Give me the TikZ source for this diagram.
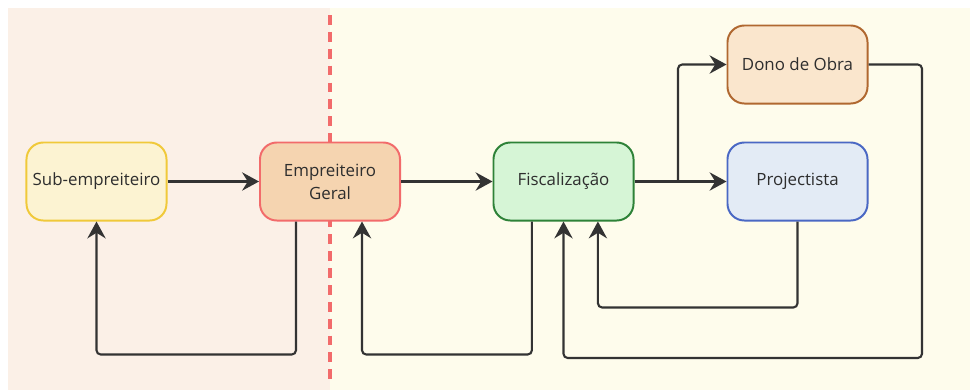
\documentclass[tikz,border=0pt]{standalone}
\usepackage{fontspec}
\setmainfont{Open Sans}
\usetikzlibrary{arrows.meta}
\definecolor{pinkbg}{HTML}{FBF0E7}
\definecolor{creambg}{HTML}{FEFCEC}
\definecolor{linegray}{HTML}{333333}
\definecolor{textgray}{HTML}{2E2E2E}
\definecolor{dashred}{HTML}{F26B6B}
\definecolor{subdraw}{HTML}{F0C93A}
\definecolor{subfill}{HTML}{FCF3D2}
\begin{document}
\begin{tikzpicture}[x=0.025cm,y=-0.025cm,
  box/.style={draw,line width=1.4pt,rounded corners=12pt,minimum width=3.5cm,minimum height=1.95cm,
    align=center,text=textgray,font=\fontsize{12}{16.5}\selectfont},
  conn/.style={-{Stealth[length=12pt,width=13pt,inset=4pt]},draw=linegray,line width=1.5pt,rounded corners=3pt}]
 \useasboundingbox (0,0) rectangle (970,390);

% Backgrounds
 \fill[pinkbg] (8,8) rectangle (330,390);
 \fill[creambg] (330,8) rectangle (970,390);
 \draw[dashred,line width=2.2pt,dash pattern=on 7pt off 5pt] (330,15) -- (330,382);

% Boxes
 \node[box,draw=subdraw,fill=subfill] (sub) at (96.5,181.5) {Sub-empreiteiro};
 \node[box,draw=dashred,fill={rgb,255:red,245;green,212;blue,176}] (eg) at (330,181.5) {Empreiteiro\\Geral};
 \node[box,draw={rgb,255:red,46;green,130;blue,56},fill={rgb,255:red,214;green,245;blue,214}] (fisc) at (563.5,181.5) {Fiscaliza\c{c}\~ao};
 \node[box,draw={rgb,255:red,74;green,104;blue,196},fill={rgb,255:red,227;green,235;blue,245}] (proj) at (797.5,181.5) {Projectista};
 \node[box,draw={rgb,255:red,176;green,104;blue,48},fill={rgb,255:red,250;green,230;blue,205}] (dono) at (797.5,64.5) {Dono de Obra};

 \coordinate (split) at (678,181.5);
 \coordinate (loopR) at (922,358);

% Connectors
 \draw[conn] (sub) -- (eg);
 \draw[conn] (eg) -- (fisc);
 \draw[conn] (fisc) -- (proj);
 \draw[conn] (split) |- (dono.west);
 \draw[conn] ([xshift=-0.85cm]eg.south) -- ++(0,133) -| (sub.south);
 \draw[conn] ([xshift=-0.79cm]fisc.south) -- ++(0,133) -| ([xshift=0.8cm]eg.south);
 \draw[conn] (proj.south) -- ++(0,86) -| ([xshift=0.86cm]fisc.south);
 \draw[conn] (dono.east) -| (loopR) -| (fisc.south);
\end{tikzpicture}
\end{document}
